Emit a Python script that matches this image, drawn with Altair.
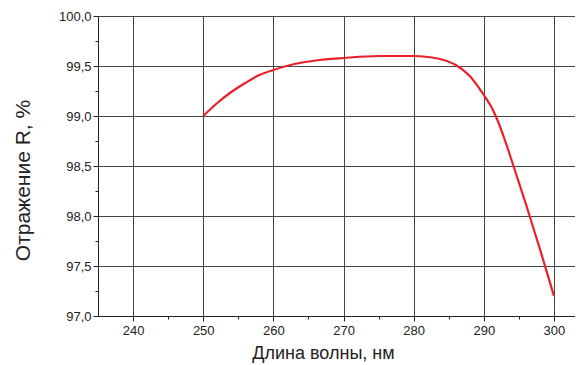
import altair as alt
import pandas as pd

wavelength = [250, 252, 254, 256, 258, 260, 263, 266, 270, 275, 280, 282, 284, 286, 288, 290, 291, 292, 293, 294, 296, 298, 300]
reflectance = [99.00, 99.13, 99.24, 99.33, 99.41, 99.46, 99.52, 99.555, 99.58, 99.60, 99.60, 99.59, 99.565, 99.51, 99.40, 99.21, 99.10, 98.95, 98.76, 98.55, 98.12, 97.67, 97.20]

x_ticks = [240, 245, 250, 255, 260, 265, 270, 275, 280, 285, 290, 295, 300]
y_ticks = [97.0, 97.25, 97.5, 97.75, 98.0, 98.25, 98.5, 98.75, 99.0, 99.25, 99.5, 99.75, 100.0]

df = pd.DataFrame({"wl": wavelength, "r": reflectance})

FONT = "Liberation Sans"

x_minor = "datum.value % 10 != 0"
y_minor = "abs(datum.value * 2 - round(datum.value * 2)) > 0.01"

chart = alt.Chart(df).mark_line(
    color="#e8202a", strokeWidth=2.2, interpolate="monotone"
).encode(
    x=alt.X("wl:Q", scale=alt.Scale(domain=[235, 303], nice=False, zero=False),
            axis=alt.Axis(
                title="Длина волны, нм", values=x_ticks,
                labelExpr=f"({x_minor}) ? '' : format(datum.value, 'd')",
                tickSize={"condition": {"test": x_minor, "value": 3}, "value": 5},
                gridOpacity={"condition": {"test": x_minor, "value": 0}, "value": 1},
                grid=True, gridColor="#444", gridWidth=1,
                domainColor="#222", tickColor="#222",
                labelFont=FONT, labelFontSize=13, labelColor="#222", labelPadding=3,
                titleFont=FONT, titleFontSize=18, titleFontWeight="normal", titleColor="#222",
                titleX=225, titleY=42, titleAlign="center", titleBaseline="alphabetic",
            )),
    y=alt.Y("r:Q", scale=alt.Scale(domain=[97, 100], nice=False, zero=False),
            axis=alt.Axis(
                title="Отражение R, %", values=y_ticks,
                labelExpr=f"({y_minor}) ? '' : replace(format(datum.value, '.1f'), '.', ',')",
                tickSize={"condition": {"test": y_minor, "value": 3}, "value": 5},
                gridOpacity={"condition": {"test": y_minor, "value": 0}, "value": 1},
                grid=True, gridColor="#444", gridWidth=1,
                domainColor="#222", tickColor="#222",
                labelFont=FONT, labelFontSize=13, labelColor="#222", labelPadding=2,
                titleFont=FONT, titleFontSize=21, titleFontWeight="normal", titleColor="#222",
                titleX=-65, titleY=164, titleAngle=270, titleAlign="center", titleBaseline="bottom",
            )),
).properties(
    width=477, height=300,
    autosize=alt.AutoSizeParams(type="none"),
    padding={"left": 90, "top": 8, "right": 0, "bottom": 47},
).configure_view(stroke=None)

chart.save("out.html", embed_options={"renderer": "svg", "actions": False})
